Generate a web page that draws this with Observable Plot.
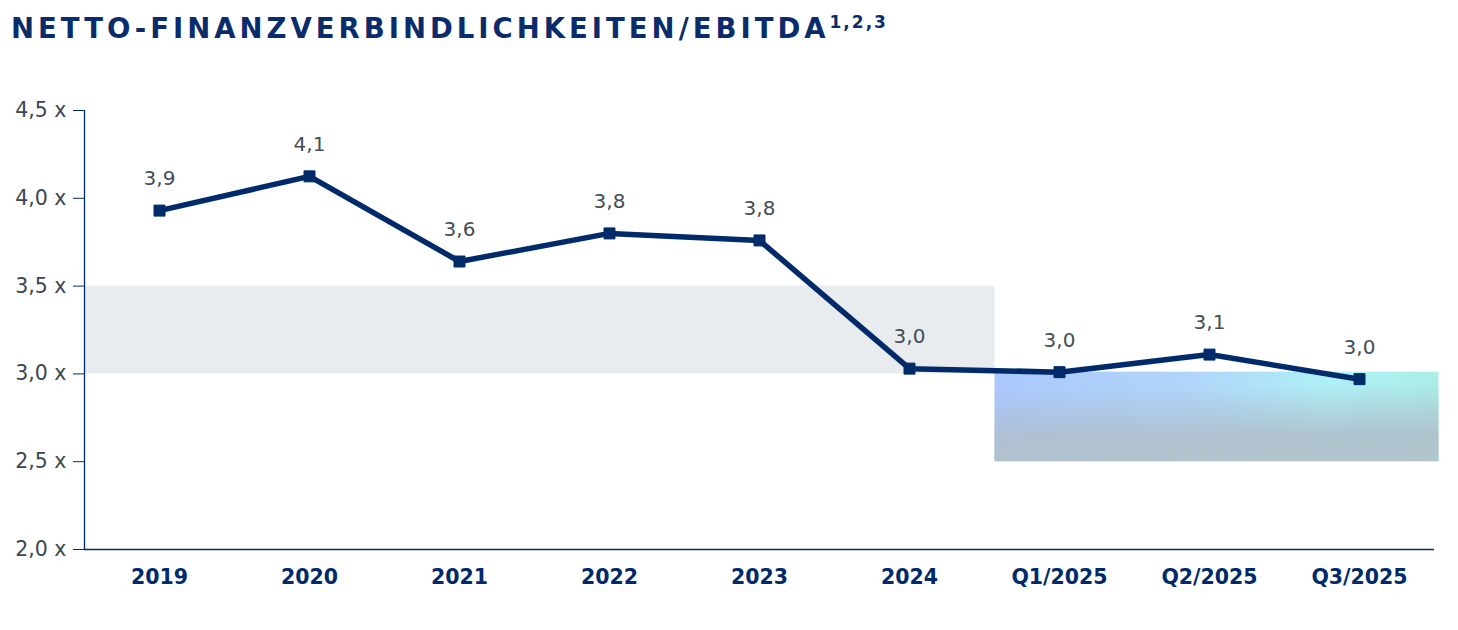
<!DOCTYPE html>
<html>
<head>
<meta charset="utf-8">
<script src="https://cdn.jsdelivr.net/npm/d3@7"></script>
<script src="https://cdn.jsdelivr.net/npm/@observablehq/plot@0.6"></script>
<style>
  body { margin: 0; background: #fff; font-family: "DejaVu Sans", Verdana, sans-serif; }
  #title { height: 60px; box-sizing: border-box; padding: 12px 0 0 11px; color: #0b2c6b; font-weight: bold; font-size: 27.5px; letter-spacing: 4px; white-space: nowrap; line-height: 32px; }
  #title sup { font-size: 17px; letter-spacing: 2px; vertical-align: 0; position: relative; top: -10px; }
  svg { display: block; }
</style>
</head>
<body>
<div id="title">NETTO-FINANZVERBINDLICHKEITEN/EBITDA<sup>1,2,3</sup></div>
<div id="chart"></div>
<script>
const categories = ["2019", "2020", "2021", "2022", "2023", "2024", "Q1/2025", "Q2/2025", "Q3/2025"];
const values = [3.93, 4.125, 3.64, 3.80, 3.76, 3.03, 3.01, 3.11, 2.97];
const valueLabels = ["3,9", "4,1", "3,6", "3,8", "3,8", "3,0", "3,0", "3,1", "3,0"];
const yTicks = [2.0, 2.5, 3.0, 3.5, 4.0, 4.5];
// background bands (in category-index units / y units)
const grayBand = {x1: -0.5, x2: 5.57, y1: 3.0, y2: 3.5};
const targetBand = {x1: 5.57, x2: 8.53, y1: 2.5, y2: 3.01};

const navy = "#002a69";
const data = categories.map((c, i) => ({i, cat: c, v: values[i], label: valueLabels[i]}));

const svg = Plot.plot({
  width: 1458,
  height: 570,
  marginTop: 50,
  marginBottom: 81,
  marginLeft: 84,
  marginRight: 24,
  style: {fontFamily: "'DejaVu Sans', Verdana, sans-serif", background: "transparent"},
  x: {type: "linear", domain: [-0.5, 8.5]},
  y: {domain: [2, 4.5]},
  marks: [
    Plot.rect([grayBand], {x1: "x1", x2: "x2", y1: "y1", y2: "y2", fill: "#e9ecef"}),
    Plot.rect([targetBand], {x1: "x1", x2: "x2", y1: "y1", y2: "y2", fill: "url(#gradH)"}),
    Plot.rect([targetBand], {x1: "x1", x2: "x2", y1: "y1", y2: "y2", fill: "url(#gradV)"}),
    Plot.axisY({ticks: yTicks, tickFormat: d => d.toFixed(1).replace(".", ",") + " x", tickSize: 11, tickPadding: 7, stroke: navy, fill: "#3b4650", fontSize: 20.5}),
    Plot.axisX({ticks: d3.range(categories.length), tickFormat: i => categories[i], tickSize: 0, tickPadding: 20, fill: navy, fontSize: 20.5, fontWeight: "bold"}),
    Plot.ruleX([-0.5], {y1: 2, y2: 4.5, stroke: navy, strokeWidth: 1.3}),
    Plot.ruleY([2], {x1: -0.5, x2: 8.5, stroke: navy, strokeWidth: 1.3}),
    Plot.line(data, {x: "i", y: "v", stroke: navy, strokeWidth: 5.5, strokeLinejoin: "round"}),
    Plot.dot(data, {x: "i", y: "v", symbol: "square", r: 6.2, fill: navy, stroke: navy, strokeWidth: 1}),
    Plot.text(data, {x: "i", y: "v", text: "label", dy: -32, fontSize: 20, fill: "#444d56"})
  ]
});

const ns = "http://www.w3.org/2000/svg";
const defs = document.createElementNS(ns, "defs");
defs.innerHTML = `
  <linearGradient id="gradH" x1="0" y1="0" x2="1" y2="0">
    <stop offset="0" stop-color="#abc7fb"/>
    <stop offset="0.45" stop-color="#b0d6fa"/>
    <stop offset="0.75" stop-color="#aef0f6"/>
    <stop offset="1" stop-color="#aaeee6"/>
  </linearGradient>
  <linearGradient id="gradV" x1="0.15" y1="0" x2="0.25" y2="1">
    <stop offset="0.2" stop-color="#b0bcca" stop-opacity="0"/>
    <stop offset="0.75" stop-color="#b0bfcc" stop-opacity="0.9"/>
    <stop offset="1" stop-color="#b0c4cc" stop-opacity="1"/>
  </linearGradient>`;
svg.insertBefore(defs, svg.firstChild);
document.getElementById("chart").appendChild(svg);
</script>
</body>
</html>
